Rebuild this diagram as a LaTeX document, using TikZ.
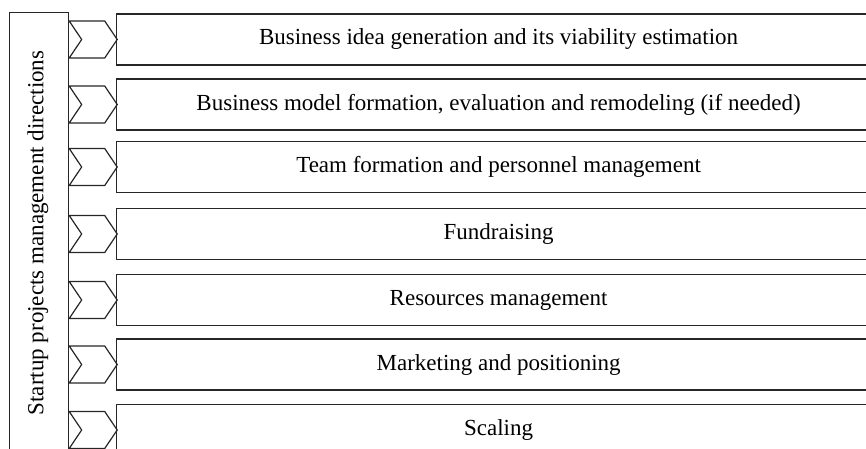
\documentclass[tikz,border=0pt]{standalone}
\usepackage{fontspec}
\setmainfont{Liberation Serif}
\usetikzlibrary{positioning,shapes.symbols}

\begin{document}
\begin{tikzpicture}[x=1pt,y=-1pt]
\tikzset{
    direction/.style={rectangle,draw=black!85,line width=1.2pt,minimum width=764pt,minimum height=51pt,inner sep=0pt,anchor=west,font=\fontsize{23}{27}\selectfont},
    chevron/.style={signal,signal from=west,signal to=east,signal pointer angle=112,draw=black!85,line width=1.2pt,minimum width=48pt,minimum height=37pt,inner sep=0pt},
    sidebox/.style={rectangle,draw=black!85,line width=1.2pt,minimum width=59pt,minimum height=450pt,inner sep=0pt,anchor=north west}
}
\clip (0,0) rectangle (866,449);
% left column
\node[sidebox] (side) at (9,12) {};
\node[rotate=90,font=\fontsize{23}{27}\selectfont] (title) at (38,233) {Startup projects management directions};
% directions
\node[direction] (d1) at (116,39.5) {Business idea generation and its viability estimation};
\node[direction] (d2) at (116,104.5) {Business model formation, evaluation and remodeling (if needed)};
\node[direction] (d3) at (116,167) {Team formation and personnel management};
\node[direction] (d4) at (116,234) {Fundraising};
\node[direction] (d5) at (116,300) {Resources management};
\node[direction] (d6) at (116,364.5) {Marketing and positioning};
\node[direction] (d7) at (116,430) {Scaling};
% chevrons between the column and each direction
\node[chevron] (c1) at (side.east |- d1.west) [xshift=24pt] {};
\node[chevron] (c2) at (side.east |- d2.west) [xshift=24pt] {};
\node[chevron] (c3) at (side.east |- d3.west) [xshift=24pt] {};
\node[chevron] (c4) at (side.east |- d4.west) [xshift=24pt] {};
\node[chevron] (c5) at (side.east |- d5.west) [xshift=24pt] {};
\node[chevron] (c6) at (side.east |- d6.west) [xshift=24pt] {};
\node[chevron] (c7) at (side.east |- d7.west) [xshift=24pt] {};
\end{tikzpicture}
\end{document}
